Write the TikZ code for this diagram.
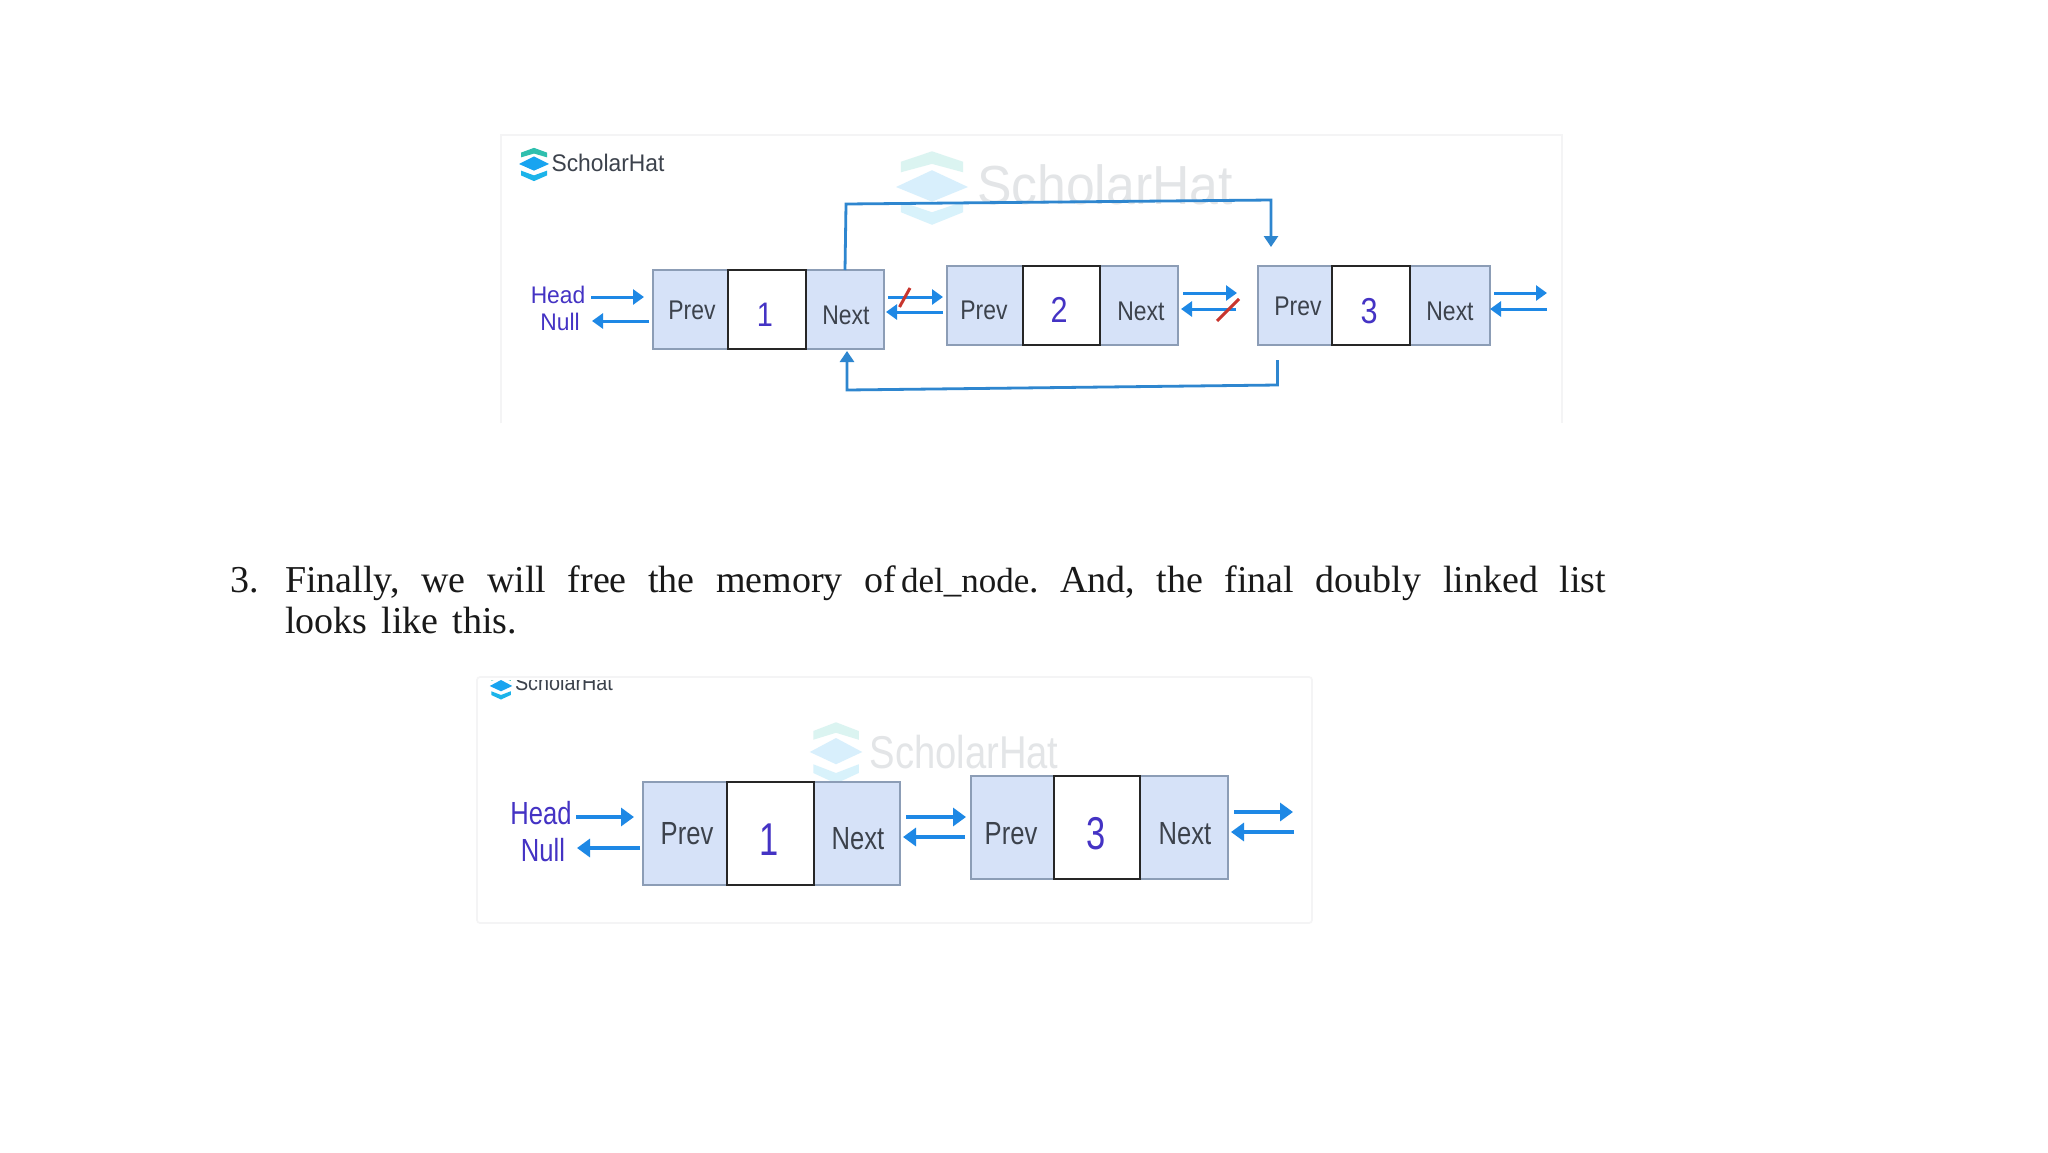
\documentclass[tikz,border=0pt]{standalone}
\usepackage{fontspec}
\usepackage{graphicx}
\setmainfont{Liberation Serif}
\setsansfont{Liberation Sans}
\usetikzlibrary{arrows.meta}
\definecolor{arrowblue}{HTML}{1E88E5}
\definecolor{linkblue}{HTML}{2E86CF}
\definecolor{inkblue}{HTML}{4433C4}
\definecolor{cellfill}{HTML}{D6E2F8}
\definecolor{celledge}{HTML}{8C9DB6}
\definecolor{labelgrey}{HTML}{3C424C}
\definecolor{wmgrey}{HTML}{E3E5E7}
\definecolor{panelline}{HTML}{F4F4F5}
\definecolor{logoteal}{HTML}{2FBFAE}
\definecolor{logocyan}{HTML}{1CB4EA}
\definecolor{logomid}{HTML}{18A4F0}
\definecolor{slashred}{HTML}{C8352E}
\newcommand{\stxt}[3]{\scalebox{#1}[1]{\fontsize{#2}{#2}\selectfont\sffamily #3}}
\newcommand{\shlogo}[5]{% x y xscale yscale opacity
  \begin{scope}[shift={(#1,#2)},xscale=#3,yscale=#4,opacity=#5]
    \fill[logoteal] (-13,-12)--(0,-17)--(13,-12)--(13,-7)--(0,-11)--(-13,-7)--cycle;
    \fill[logomid] (-15,0)--(0,-8)--(15,0)--(0,7)--cycle;
    \fill[logocyan] (-13,7)--(0,12)--(13,7)--(13,12)--(0,18)--(-13,12)--cycle;
  \end{scope}}
\tikzset{
  pside/.style={draw=celledge,fill=cellfill,line width=2.4pt,inner sep=0pt,outer sep=0pt},
  pmid/.style={draw=black!85,fill=white,line width=2.8pt,inner sep=0pt,outer sep=0pt},
  lbl/.style={inner sep=0pt,outer sep=0pt,text=labelgrey,anchor=center},
  blbl/.style={inner sep=0pt,outer sep=0pt,text=inkblue,anchor=center},
  arr/.style={draw=arrowblue,line width=3pt,-{Triangle[length=11pt,width=15pt]}},
  bigarr/.style={draw=arrowblue,line width=3.6pt,-{Triangle[length=13pt,width=18pt]}},
  link/.style={draw=linkblue,line width=2.8pt},
  slash/.style={draw=slashred,line width=3pt},
  panel/.style={draw=panelline,line width=1.6pt},
  para/.style={inner sep=0pt,outer sep=0pt,anchor=base west,text=black!90},
}
\begin{document}
\begin{tikzpicture}[x=1pt,y=-1pt]
\useasboundingbox (0,0) rectangle (2048,1152);
\fill[white] (0,0) rectangle (2048,1152);

% ---------- top panel
\draw[panel] (501,423) -- (501,135) -- (1562,135) -- (1562,423);
\shlogo{534}{164}{1}{.95}{1}
\node[inner sep=0,text=labelgrey] (logoA) at (608,163) {\stxt{.95}{24}{ScholarHat}};
\shlogo{932}{187}{2.4}{2.1}{.17}
\node[inner sep=0,text=wmgrey] (markA) at (1105,185) {\stxt{.94}{55}{ScholarHat}};

\node[pside,minimum width=75pt,minimum height=79pt] (a1p) at (690.5,309.5) {};
\node[pside,minimum width=78pt,minimum height=79pt] (a1n) at (845,309.5) {};
\node[pmid,minimum width=78pt,minimum height=79pt] (a1v) at (767,309.5) {};
\node[pside,minimum width=76.5pt,minimum height=79pt] (a2p) at (985.5,305.5) {};
\node[pside,minimum width=78pt,minimum height=79pt] (a2n) at (1139,305.5) {};
\node[pmid,minimum width=77pt,minimum height=79pt] (a2v) at (1061.5,305.5) {};
\node[pside,minimum width=74pt,minimum height=79pt] (a3p) at (1295,305.5) {};
\node[pside,minimum width=80pt,minimum height=79pt] (a3n) at (1450,305.5) {};
\node[pmid,minimum width=78pt,minimum height=79pt] (a3v) at (1371,305.5) {};

\node[lbl] (t1p) at (692,310) {\stxt{.85}{27}{Prev}};
\node[blbl] (t1v) at (765,315) {\stxt{.85}{34}{1}};
\node[lbl] (t1n) at (846,315) {\stxt{.85}{27}{Next}};
\node[lbl] (t2p) at (984,310) {\stxt{.85}{27}{Prev}};
\node[blbl] (t2v) at (1059,310) {\stxt{.85}{36}{2}};
\node[lbl] (t2n) at (1141,311) {\stxt{.85}{27}{Next}};
\node[lbl] (t3p) at (1298,306) {\stxt{.85}{27}{Prev}};
\node[blbl] (t3v) at (1369,311) {\stxt{.85}{36}{3}};
\node[lbl] (t3n) at (1450,311) {\stxt{.85}{27}{Next}};
\node[blbl] (headA) at (558,295) {\stxt{.95}{24}{Head}};
\node[blbl] (nullA) at (560,322) {\stxt{.95}{24}{Null}};

\coordinate (h1s) at (591,297); \coordinate (h1e) at (644,297);
\coordinate (n1s) at (649,321); \coordinate (n1e) at (592,321);
\coordinate (m1s) at (888,297); \coordinate (m1e) at (943,297);
\coordinate (m2s) at (943,312); \coordinate (m2e) at (886,312);
\coordinate (m3s) at (1183,293); \coordinate (m3e) at (1237,293);
\coordinate (m4s) at (1236,309); \coordinate (m4e) at (1181,309);
\coordinate (m5s) at (1494,293); \coordinate (m5e) at (1547,293);
\coordinate (m6s) at (1547,309); \coordinate (m6e) at (1490,309);
\draw[arr] (h1s) -- (h1e);
\draw[arr] (n1s) -- (n1e);
\draw[arr] (m1s) -- (m1e);
\draw[arr] (m2s) -- (m2e);
\draw[arr] (m3s) -- (m3e);
\draw[arr] (m4s) -- (m4e);
\draw[arr] (m5s) -- (m5e);
\draw[arr] (m6s) -- (m6e);
\coordinate (r1a) at (899.5,307); \coordinate (r1b) at (910,288);
\coordinate (r2a) at (1217,321); \coordinate (r2b) at (1239,299);
\draw[slash] (r1a) -- (r1b);
\draw[slash] (r2a) -- (r2b);

\coordinate (up1) at (846,204); \coordinate (up2) at (1271,200); \coordinate (up3) at (1271,247);
\draw[link,line join=miter,-{Triangle[length=11pt,width=14pt]}] (a1n.north) -- (up1) -- (up2) -- (up3);
\coordinate (lo1) at (1277.5,360); \coordinate (lo2) at (1277.5,385); \coordinate (lo3) at (847,390); \coordinate (lo4) at (847,351);
\draw[link,-{Triangle[length=11pt,width=14pt]}] (lo1) -- (lo2) -- (lo3) -- (lo4);

% ---------- paragraph
\node[para] (num) at (230,592) {\fontsize{38}{38}\selectfont 3.};
\node[para] (line1) at (285,592) {\fontsize{38}{38}\selectfont\makebox[1321pt][s]{Finally,\hfill we\hfill will\hfill free\hfill the\hfill memory\hfill of\hspace{5pt}{\fontsize{35}{35}\selectfont del\_node}.\hfill And,\hfill the\hfill final\hfill doubly\hfill linked\hfill list}};
\node[para] (line2) at (285,633) {\fontsize{38}{38}\selectfont\makebox[232pt][s]{looks\hfill like\hfill this.}};

% ---------- bottom panel
\draw[panel,rounded corners=3pt] (477,677) rectangle (1312,923);
\begin{scope}
  \clip (470,680) rectangle (700,720);
  \shlogo{501}{686}{.75}{.75}{1}
  \node[inner sep=0,text=labelgrey] (logoB) at (564,683) {\stxt{.9}{22}{ScholarHat}};
\end{scope}
\shlogo{836}{752}{1.75}{1.75}{.17}
\node[inner sep=0,text=wmgrey] (markB) at (964,752) {\stxt{.83}{46}{ScholarHat}};

\node[pside,minimum width=84pt,minimum height=103pt] (b1p) at (685,833.5) {};
\node[pside,minimum width=86pt,minimum height=103pt] (b1n) at (857,833.5) {};
\node[pmid,minimum width=87pt,minimum height=103pt] (b1v) at (770.5,833.5) {};
\node[pside,minimum width=84pt,minimum height=103pt] (b3p) at (1013,827.5) {};
\node[pside,minimum width=88pt,minimum height=103pt] (b3n) at (1184,827.5) {};
\node[pmid,minimum width=86pt,minimum height=103pt] (b3v) at (1097,827.5) {};

\node[lbl] (s1p) at (687,834) {\stxt{.8}{32}{Prev}};
\node[blbl] (s1v) at (769,840) {\stxt{.75}{46}{1}};
\node[lbl] (s1n) at (858,839) {\stxt{.8}{32}{Next}};
\node[lbl] (s3p) at (1011,834) {\stxt{.8}{32}{Prev}};
\node[blbl] (s3v) at (1096,834) {\stxt{.75}{46}{3}};
\node[lbl] (s3n) at (1185,834) {\stxt{.8}{32}{Next}};
\node[blbl] (headB) at (541,813) {\stxt{.8}{32}{Head}};
\node[blbl] (nullB) at (543,850) {\stxt{.8}{32}{Null}};

\coordinate (h2s) at (576,817); \coordinate (h2e) at (634,817);
\coordinate (n2s) at (640,848); \coordinate (n2e) at (577,848);
\coordinate (p1s) at (906,817); \coordinate (p1e) at (966,817);
\coordinate (p2s) at (965,837); \coordinate (p2e) at (903,837);
\coordinate (p3s) at (1234,812); \coordinate (p3e) at (1293,812);
\coordinate (p4s) at (1294,832); \coordinate (p4e) at (1231,832);
\draw[bigarr] (h2s) -- (h2e);
\draw[bigarr] (n2s) -- (n2e);
\draw[bigarr] (p1s) -- (p1e);
\draw[bigarr] (p2s) -- (p2e);
\draw[bigarr] (p3s) -- (p3e);
\draw[bigarr] (p4s) -- (p4e);
\end{tikzpicture}
\end{document}
